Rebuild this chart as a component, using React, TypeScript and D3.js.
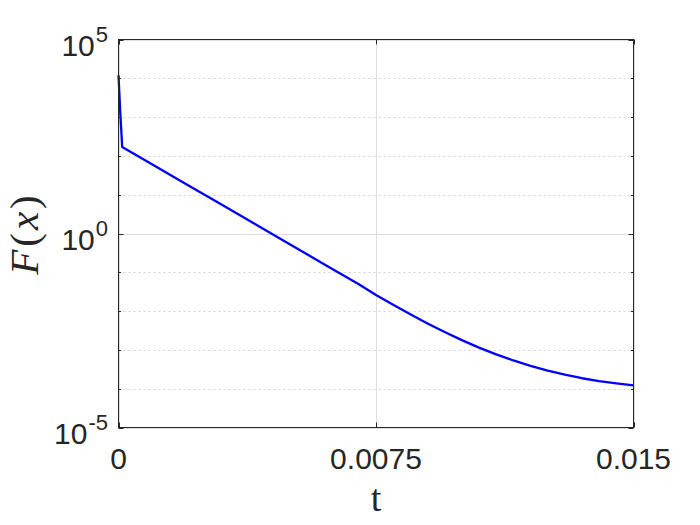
import React from "react";
import * as d3 from "d3";

const tValues = [0, 0.00005, 0.000108, 0.001, 0.002, 0.003, 0.004, 0.005, 0.006, 0.007, 0.0075, 0.008, 0.0085, 0.009, 0.0095, 0.01, 0.0105, 0.011, 0.0115, 0.012, 0.0125, 0.013, 0.0135, 0.014, 0.0145, 0.015];
const fValues = [1.2e4, 1400, 170, 59, 18, 5.6, 1.7, 0.52, 0.16, 0.049, 0.026, 0.01454, 0.00827, 0.004815, 0.002884, 0.001789, 0.001148, 7.67e-4, 5.34e-4, 3.87e-4, 2.92e-4, 2.29e-4, 1.86e-4, 1.567e-4, 1.365e-4, 1.216e-4];

const xTicks = [0, 0.0075, 0.015];
const xTickLabels = ["0", "0.0075", "0.015"];
const yMajorExp = [-5, 0, 5];
const yDecades = [-5, -4, -3, -2, -1, 0, 1, 2, 3, 4, 5];

const W = 700;
const H = 525;
const L = 118.5;
const R = 633.5;
const T = 39.5;
const B = 427.5;
const ink = "#262626";

export default function App() {
  const x = d3.scaleLinear().domain([0, 0.015]).range([L, R]);
  const y = d3.scaleLog().domain([1e-5, 1e5]).range([B, T]);
  const data = tValues.map((t, i) => [t, fValues[i]] as [number, number]);
  const line = d3
    .line<[number, number]>()
    .x((d) => x(d[0]))
    .y((d) => y(d[1]))
    .curve(d3.curveLinear);

  const font = "'Liberation Sans', Arial, Helvetica, sans-serif";
  const serif = "'Liberation Serif', 'Times New Roman', serif";

  return (
    <svg
      width={W}
      height={H}
      style={{ position: "absolute", left: 0, top: 0, background: "#fff" }}
    >
      <rect x={0} y={0} width={W} height={H} fill="#fff" />
      {/* minor grid */}
      {yDecades
        .filter((e) => !yMajorExp.includes(e))
        .map((e) => (
          <line
            key={"mg" + e}
            x1={L}
            x2={R}
            y1={Math.round(y(Math.pow(10, e))) + 0.5}
            y2={Math.round(y(Math.pow(10, e))) + 0.5}
            stroke="#d4d4d4"
            strokeWidth={1}
            strokeDasharray="2,3"
          />
        ))}
      {/* major grid */}
      {yMajorExp.map((e) => (
        <line
          key={"g" + e}
          x1={L}
          x2={R}
          y1={Math.round(y(Math.pow(10, e))) + 0.5}
          y2={Math.round(y(Math.pow(10, e))) + 0.5}
          stroke="#dedede"
          strokeWidth={1}
        />
      ))}
      {xTicks.map((t) => (
        <line
          key={"gx" + t}
          x1={Math.round(x(t)) + 0.5}
          x2={Math.round(x(t)) + 0.5}
          y1={T}
          y2={B}
          stroke="#dedede"
          strokeWidth={1}
        />
      ))}
      {/* curve */}
      <path
        d={line(data) || ""}
        fill="none"
        stroke="#0000ff"
        strokeWidth={2.3}
        strokeLinejoin="round"
      />
      {/* box */}
      <rect x={L} y={T} width={R - L} height={B - T} fill="none" stroke={ink} strokeWidth={1} />
      {/* y ticks */}
      {yDecades.map((e) => {
        const len = yMajorExp.includes(e) ? 5 : 2.5;
        const yy = Math.round(y(Math.pow(10, e))) + 0.5;
        return (
          <g key={"yt" + e}>
            <line x1={L} x2={L + len} y1={yy} y2={yy} stroke={ink} strokeWidth={1} />
            <line x1={R} x2={R - len} y1={yy} y2={yy} stroke={ink} strokeWidth={1} />
          </g>
        );
      })}
      {/* x ticks */}
      {xTicks.map((t) => {
        const xx = Math.round(x(t)) + 0.5;
        return (
          <g key={"xt" + t}>
            <line x1={xx} x2={xx} y1={B} y2={B - 5} stroke={ink} strokeWidth={1} />
            <line x1={xx} x2={xx} y1={T} y2={T + 5} stroke={ink} strokeWidth={1} />
          </g>
        );
      })}
      {/* y tick labels */}
      {yMajorExp.map((e) => (
        <text
          key={"yl" + e}
          x={108}
          y={y(Math.pow(10, e)) + 16}
          textAnchor="end"
          fontFamily={font}
          fontSize={30}
          fill={ink}
        >
          10
          <tspan dx={1} dy={-14} fontSize={22}>
            {String(e)}
          </tspan>
        </text>
      ))}
      {/* x tick labels */}
      {xTicks.map((t, i) => (
        <text
          key={"xl" + t}
          x={x(t)}
          y={B + 41}
          textAnchor="middle"
          fontFamily={font}
          fontSize={30}
          fill={ink}
        >
          {xTickLabels[i]}
        </text>
      ))}
      {/* axis labels */}
      <text
        x={(L + R) / 2}
        y={511}
        textAnchor="middle"
        fontFamily={serif}
        fontSize={38}
        fill={ink}
      >
        t
      </text>
      <text
        transform={`translate(38, ${(T + B) / 2}) rotate(-90)`}
        textAnchor="middle"
        fontFamily={serif}
        fontSize={41}
        fill={ink}
        letterSpacing={3}
      >
        <tspan fontStyle="italic">F</tspan>
        <tspan>(</tspan>
        <tspan fontStyle="italic">x</tspan>
        <tspan>)</tspan>
      </text>
    </svg>
  );
}
